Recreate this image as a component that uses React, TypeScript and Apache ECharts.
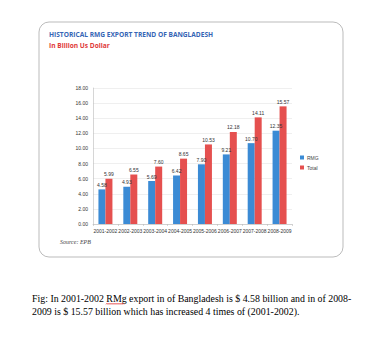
import React, { useEffect, useRef } from "react";
import * as echarts from "echarts";

const categories = ["2001-2002", "2002-2003", "2003-2004", "2004-2005", "2005-2006", "2006-2007", "2007-2008", "2008-2009"];
const rmgValues = [4.58, 4.93, 5.69, 6.42, 7.9, 9.21, 10.7, 12.35];
const totalValues = [5.99, 6.55, 7.6, 8.65, 10.53, 12.18, 14.11, 15.57];
const seriesNames = ["RMG", "Total"];
const titleText = "HISTORICAL RMG EXPORT TREND OF BANGLADESH";
const subtitleText = "In Billion Us Dollar";
const sourceText = "Source: EPB";
const captionLine1 = "Fig: In 2001-2002 RMg export in of Bangladesh is $ 4.58 billion and in of 2008-";
const captionLine2 = "2009 is $ 15.57 billion which has increased 4 times of (2001-2002).";

export default function App() {
  const ref = useRef<HTMLDivElement>(null);
  useEffect(() => {
    document.body.style.margin = "0";
    const chart = echarts.init(ref.current!, null, { renderer: "svg" });
    const squiggle: number[][] = [];
    for (let i = 0; i <= 18; i++) squiggle.push([106 + i, i % 2 === 0 ? 304.5 : 303]);
    const labelStyle = { show: true, position: "top" as const, fontSize: 5, color: "#333", distance: 2, formatter: (p: any) => p.value.toFixed(2), fontFamily: "Liberation Sans" };
    chart.setOption({
      animation: false,
      backgroundColor: "#fff",
      grid: { left: 93, right: 80, top: 88, bottom: 129, containLabel: false },
      legend: {
        orient: "vertical",
        left: 295,
        top: 150,
        itemWidth: 4,
        itemHeight: 4,
        itemGap: 5,
        icon: "rect",
        textStyle: { fontSize: 5, color: "#444", padding: [0, 0, 0, -2] },
        data: seriesNames,
      },
      xAxis: {
        type: "category",
        data: categories,
        axisLine: { lineStyle: { color: "#bbb", width: 0.6 } },
        axisTick: { show: true, alignWithLabel: false, lineStyle: { color: "#bbb", width: 0.6 }, length: 2 },
        axisLabel: { fontSize: 5, color: "#333", margin: 4, interval: 0, fontFamily: "Liberation Sans" },
      },
      yAxis: {
        type: "value",
        min: 0,
        max: 18,
        interval: 2,
        axisLine: { show: true, lineStyle: { color: "#bbb", width: 0.6 } },
        axisTick: { show: false },
        splitLine: { lineStyle: { color: "#e4e4e4", width: 0.6 } },
        axisLabel: { fontSize: 5, color: "#333", margin: 5, formatter: (v: number) => v.toFixed(2), fontFamily: "Liberation Sans" },
      },
      series: [
        { name: seriesNames[0], type: "bar", data: rmgValues, barWidth: 7, barGap: "0%", itemStyle: { color: "#3b8bd5" }, label: labelStyle },
        { name: seriesNames[1], type: "bar", data: totalValues, barWidth: 7, barGap: "0%", itemStyle: { color: "#e5504f" }, label: labelStyle },
      ],
      graphic: [
        { type: "rect", shape: { x: 39, y: 22, width: 304, height: 235, r: 10 }, style: { fill: "none", stroke: "#aaa", lineWidth: 0.8 }, z: -1 },
        { type: "text", x: 49, y: 34, style: { text: titleText, fontSize: 6.6, fontWeight: "bold", fill: "#3565b5", fontFamily: "Open Sans", verticalAlign: "middle" } },
        { type: "text", x: 49, y: 45, style: { text: subtitleText, fontSize: 6.6, fontWeight: "bold", fill: "#e03a3a", fontFamily: "Open Sans", verticalAlign: "middle" } },
        { type: "text", x: 60, y: 242, style: { text: sourceText, fontSize: 6, fontStyle: "italic", fill: "#444", fontFamily: "Liberation Serif", verticalAlign: "middle" } },
        { type: "text", x: 32, y: 298, style: { text: captionLine1, fontSize: 9.9, fill: "#000", fontFamily: "Liberation Serif", verticalAlign: "middle" } },
        { type: "text", x: 32, y: 311, style: { text: captionLine2, fontSize: 9.9, fill: "#000", fontFamily: "Liberation Serif", verticalAlign: "middle" } },
        { type: "polyline", shape: { points: squiggle }, style: { stroke: "#e03030", lineWidth: 0.6, fill: "none" } },
      ],
    });
    return () => chart.dispose();
  }, []);
  return <div ref={ref} style={{ width: 372, height: 353 }} />;
}
